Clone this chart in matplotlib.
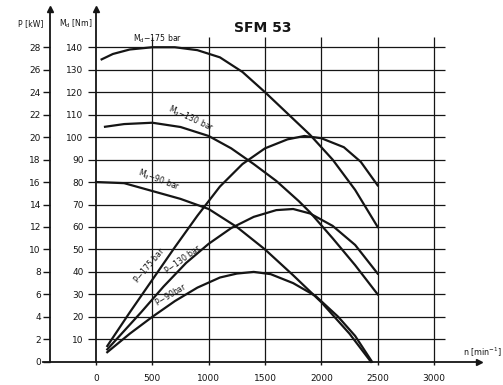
import numpy as np
import matplotlib.pyplot as plt

# speed n [min^-1] and torque Md [Nm], read from the SFM 53 sheet
n_md175 = [50, 150, 300, 500, 700, 900, 1100, 1300, 1500, 1700, 1900, 2100, 2300, 2500]
md175 = [134.6, 137, 139, 140, 140, 138.7, 135.5, 129, 120, 110.5, 101, 90, 76.5, 60]

n_md130 = [80, 250, 500, 750, 1000, 1200, 1400, 1600, 1800, 1900, 2100, 2300, 2500]
md130 = [104.6, 105.8, 106.4, 104.5, 100.5, 95, 88, 80.5, 71.5, 66.5, 55, 43, 30]

n_md90 = [0, 250, 500, 750, 1000, 1250, 1500, 1750, 2000, 2250, 2440]
md90 = [80, 79.5, 76, 72.5, 68, 60, 50, 38.5, 26.5, 12.5, 0]

# power P [kW]
n_p175 = [100, 300, 500, 700, 900, 1100, 1300, 1500, 1700, 1850, 2000, 2200, 2350, 2500]
p175 = [1.4, 4.4, 7.3, 10.2, 13.0, 15.6, 17.6, 19.0, 19.8, 20.1, 19.9, 19.1, 17.8, 15.7]

n_p130 = [100, 400, 600, 800, 1000, 1200, 1400, 1600, 1750, 1900, 2100, 2300, 2500]
p130 = [1.1, 4.4, 6.7, 8.8, 10.5, 11.9, 12.9, 13.5, 13.6, 13.2, 12.1, 10.4, 7.85]

n_p90 = [100, 300, 500, 700, 900, 1100, 1250, 1400, 1550, 1750, 1950, 2150, 2300, 2450]
p90 = [0.85, 2.5, 4.0, 5.4, 6.6, 7.5, 7.85, 8.0, 7.8, 7.0, 5.85, 4.0, 2.3, 0]

n_ticks = [0, 500, 1000, 1500, 2000, 2500, 3000]
md_ticks = list(range(10, 150, 10))
p_ticks = list(range(0, 30, 2))

INK = '#151515'


def p_to_md(p):
    return np.asarray(p) * 5.0


def md_to_p(md):
    return np.asarray(md) / 5.0


fig = plt.figure(figsize=(5.03, 3.85), dpi=100)
ax = fig.add_axes([0.0654, 0.002, 0.8915, 0.992])
ax.set_xlim(-560, 3420)
ax.set_ylim(-10, 160)

# grid
ax.hlines(md_ticks, -70, 3098, color=INK, lw=0.9, zorder=1)
ax.vlines(n_ticks[1:], 0, 144.5, color=INK, lw=0.9, zorder=1)

# axes
for s in ['top', 'right']:
    ax.spines[s].set_visible(False)
ax.spines['left'].set_position(('data', 0))
ax.spines['left'].set_bounds(0, 157)
ax.spines['bottom'].set_position(('data', 0))
ax.spines['bottom'].set_bounds(-470, 3385)
for s in ['left', 'bottom']:
    ax.spines[s].set_linewidth(1.3)
    ax.spines[s].set_color(INK)
ax.plot(0, 157, marker='^', color=INK, ms=5, clip_on=False)
ax.plot(3395, 0, marker='>', color=INK, ms=5, clip_on=False)

ax.set_yticks(md_ticks)
ax.tick_params(axis='y', length=0, pad=9, labelsize=6.5, colors=INK)
ax.set_xticks(n_ticks)
ax.tick_params(axis='x', length=2, width=1, pad=7, labelsize=6.5, colors=INK)

sec = ax.secondary_yaxis((-408.5 + 560) / 3980, functions=(md_to_p, p_to_md))
sec.set_yticks(p_ticks)
sec.spines['left'].set_bounds(0, 31.4)
sec.spines['left'].set_linewidth(1.3)
sec.spines['left'].set_color(INK)
sec.tick_params(length=5, width=1, pad=1.5, labelsize=6.5, colors=INK)
ax.plot(-408.5, 157, marker='^', color=INK, ms=5, clip_on=False)

# curves
lw = 1.6
ax.plot(n_md175, md175, color=INK, lw=lw, zorder=3)
ax.plot(n_md130, md130, color=INK, lw=lw, zorder=3)
ax.plot(n_md90, md90, color=INK, lw=lw, zorder=3)
ax.plot(n_p175, p_to_md(p175), color=INK, lw=lw, zorder=3)
ax.plot(n_p130, p_to_md(p130), color=INK, lw=lw, zorder=3)
ax.plot(n_p90, p_to_md(p90), color=INK, lw=lw, zorder=3)

# labels
lab = dict(fontsize=5.6, color=INK, ha='center', va='center')
ax.text(550, 144, r'M$_\mathregular{d}$$-$175 bar', **lab)
ax.text(840, 108, r'M$_\mathregular{d}$$-$130 bar', rotation=-25, **lab)
ax.text(560, 81, r'M$_\mathregular{d}$$-$90 bar', rotation=-21, **lab)
ax.text(470, 43, r'P$-$175 bar', rotation=50, **lab)
ax.text(770, 46, r'P$-$130 bar', rotation=36, **lab)
ax.text(660, 30, r'P$-$90bar', rotation=31, **lab)

ax.text(-581, 150.4, 'P [kW]', fontsize=5.6, color=INK, ha='center', va='center')
ax.text(-177, 150.4, r'M$_\mathregular{d}$ [Nm]', fontsize=5.6, color=INK,
        ha='center', va='center')
ax.text(1482, 148.6, 'SFM 53', fontsize=10, fontweight='bold', color=INK,
        ha='center', va='center')
ax.text(3600, 4, r'n [min$^{-1}$]', fontsize=5.8, color=INK, ha='right', va='center')

fig.savefig('out.png', dpi=100)
